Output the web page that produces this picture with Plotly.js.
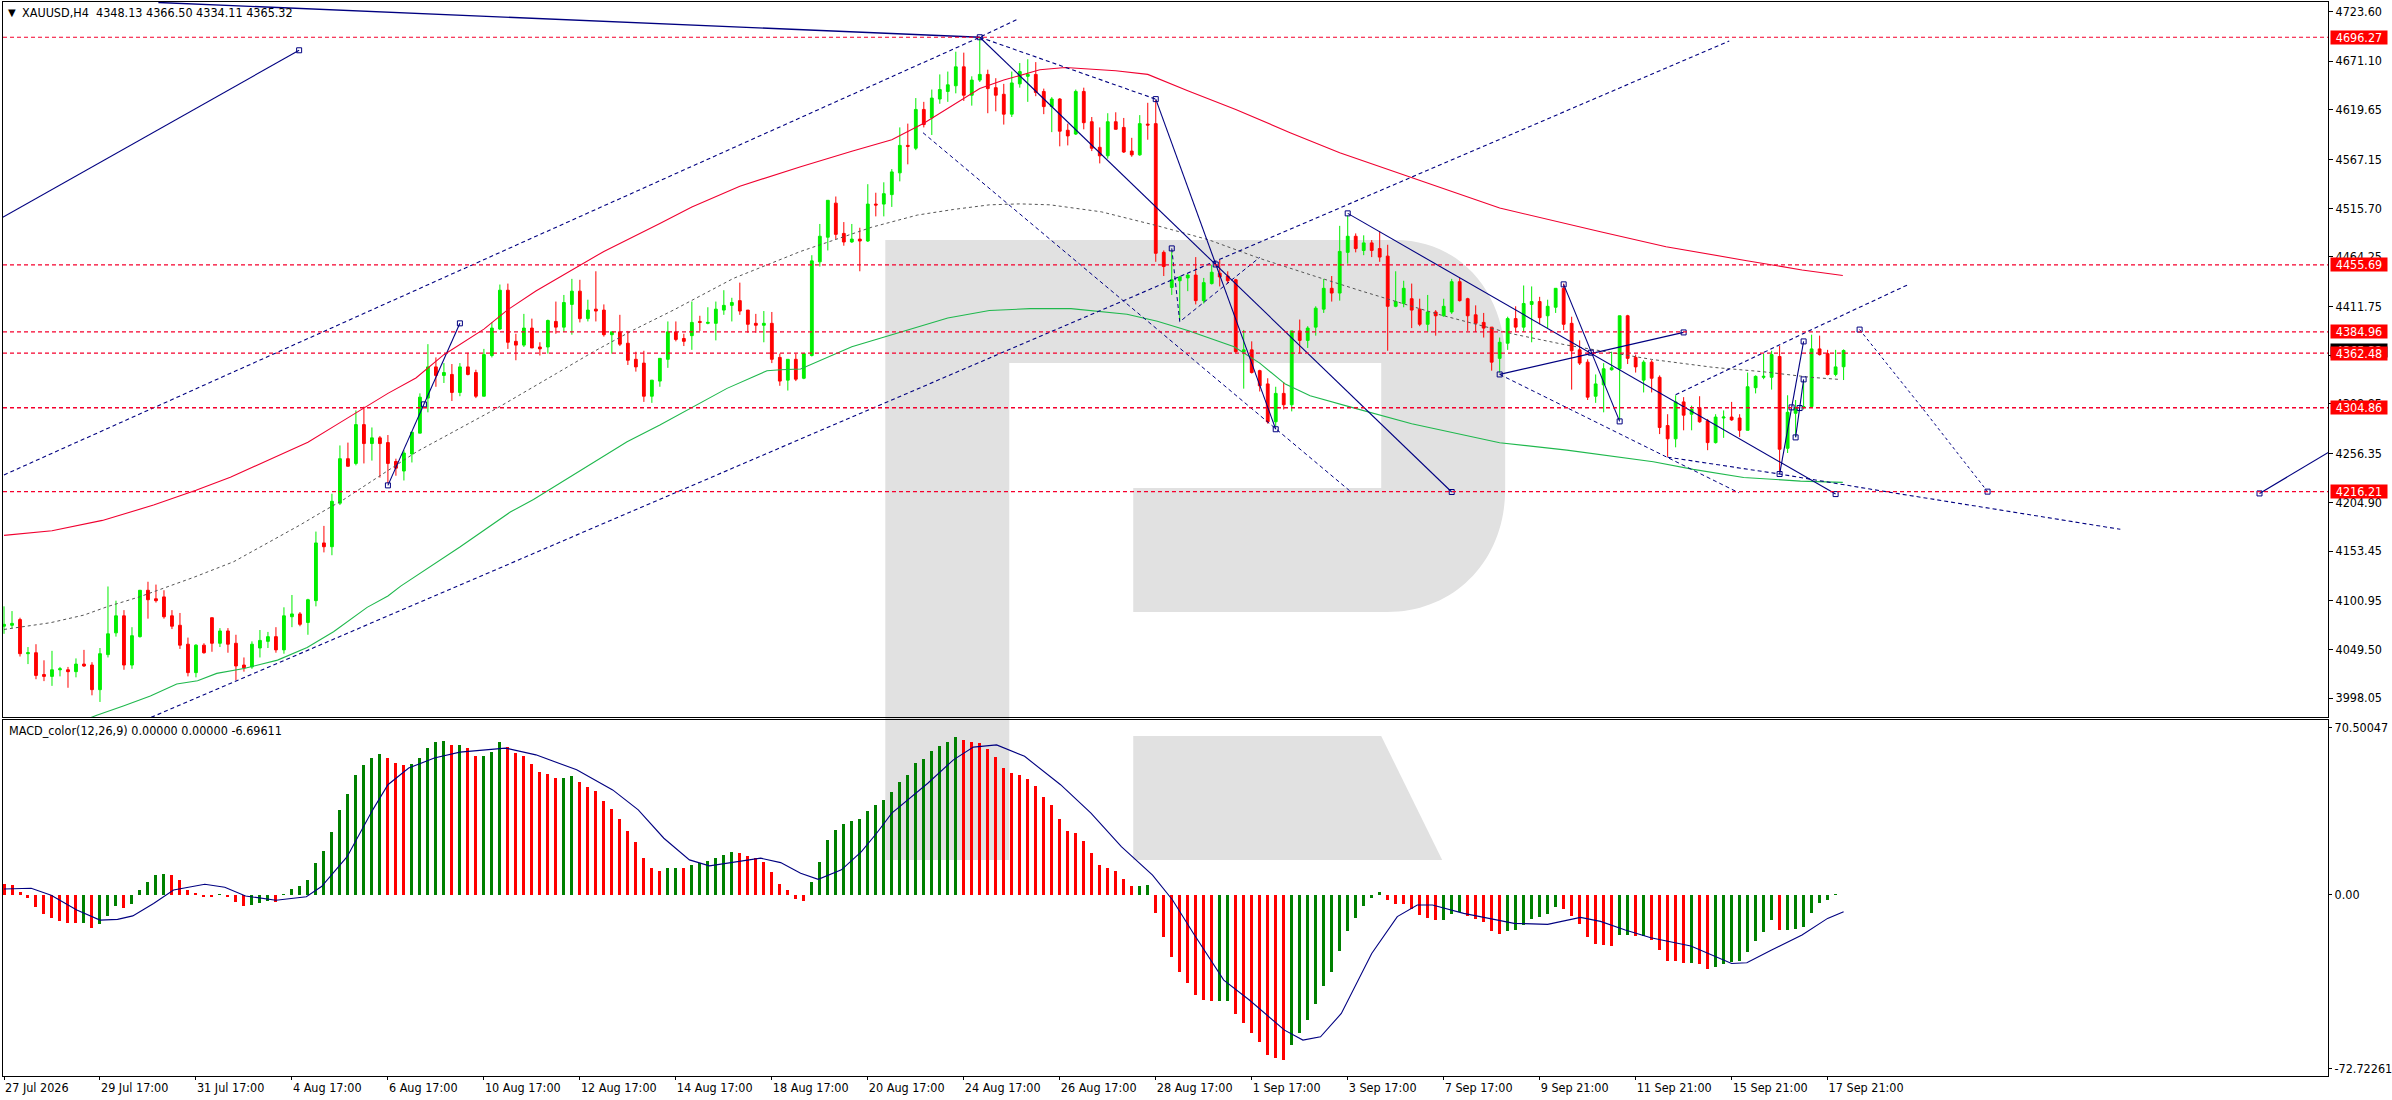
<!DOCTYPE html>
<html>
<head>
<meta charset="utf-8">
<title>XAUUSD,H4</title>
<script src="https://cdn.plot.ly/plotly-3.0.1.min.js"></script>
<style>
  html, body { margin: 0; padding: 0; background: #fff; }
</style>
</head>
<body>
<div id="chart"></div>
<script>
// H4 candles, one per bar index
const opens = [
  4074,4075,4081,4045,4046,4023,4021,4028,4028,4026,
  4034,4033,4007,4044,4067,4085,4033,4063,4112,4103,
  4105,4085,4075,4055,4025,4054,4083,4056,4069,4056,
  4033,4031,4051,4058,4063,4049,4084,4087,4078,4101,
  4162,4158,4204,4251,4246,4287,4267,4273,4268,4248,
  4238,4256,4278,4315,4348,4339,4340,4321,4348,4342,
  4317,4360,4388,4429,4375,4371,4389,4369,4369,4396,
  4390,4414,4428,4399,4409,4408,4382,4385,4373,4356,
  4352,4317,4333,4356,4385,4378,4381,4396,4394,4394,
  4408,4413,4418,4408,4394,4392,4394,4358,4334,4356,
  4336,4360,4459,4485,4521,4489,4480,4483,4481,4520,
  4520,4530,4553,4582,4579,4620,4611,4631,4639,4645,
  4665,4635,4651,4657,4643,4636,4615,4647,4655,4657,
  4639,4623,4631,4598,4594,4639,4607,4580,4571,4607,
  4601,4576,4572,4604.5,4605,4469,4432,4439,4442,4445,
  4418,4436,4447,4444,4440,4364,4366,4344,4330,4290,
  4320,4308,4386,4376,4390,4409,4431,4426,4469,4486,
  4471,4479,4473,4465,4412,4415,4420,4409,4393,4406,
  4402,4406,4438,4420,4403,4395,4390,4357,4373,4399,
  4390,4414,4417,4402,4411,4431,4394,4366,4353,4317,
  4329,4345,4346,4402,4358,4334,4353,4337,4286,4272,
  4311,4298,4305,4291,4268,4294,4295,4294,4281,4326,
  4337,4337,4359,4262,4299,4305,4306,4367,4362,4340,4348.13
];
const highs = [
  4095,4090,4083,4052,4055,4038,4048,4031,4031,4040,
  4049,4036,4051,4116,4101,4091,4073,4112,4121,4118,
  4112,4091,4088,4062,4055,4056,4083,4072,4072,4065,
  4041,4058,4070,4068,4073,4094,4107,4089,4103,4174,
  4180,4214,4265,4268,4302,4306,4284,4275,4276,4251,
  4260,4279,4320,4372,4358,4352,4351,4352,4363,4345,
  4367,4395,4435,4436,4383,4404,4399,4374,4398,4417,
  4424,4441,4440,4419,4449,4414,4385,4403,4386,4364,
  4365,4334,4357,4396,4396,4383,4417,4402,4411,4417,
  4429,4421,4437,4408,4404,4407,4406,4362,4356,4362,
  4362,4466,4499,4524,4528,4501,4499,4495,4541,4532,
  4543,4557,4601,4605,4632,4628,4641,4657,4660,4681,
  4680,4655,4696,4662,4653,4647,4660,4669,4673,4670,
  4642,4633,4632,4605,4641,4643,4612,4601,4616,4617,
  4611,4590,4614,4627,4630,4471,4470,4444,4446,4464,
  4442,4456,4461,4449,4441,4387,4375,4345,4336,4327,
  4332,4386,4398,4391,4412,4441,4444,4497,4508,4489,
  4487,4482,4491,4477,4449,4439,4436,4420,4424,4408,
  4420,4441,4442,4421,4413,4405,4390,4379,4401,4412,
  4434,4433,4422,4419,4431,4436,4401,4376,4356,4340,
  4352,4364,4402,4403,4361,4355,4355,4339,4298,4318,
  4316,4307,4317,4293,4298,4302,4311,4298,4342,4339,
  4362,4365,4370,4318,4313,4334,4382,4381,4366,4366,4366.5
];
const lows = [
  4066,4072,4042,4034,4018,4016,4011,4021,4009,4020,
  4031,4001,3994,4041,4063,4028,4029,4062,4082,4099,
  4082,4071,4050,4021,4020,4045,4047,4052,4046,4017,
  4026,4029,4041,4051,4046,4045,4073,4074,4065,4095,
  4152,4149,4202,4243,4244,4246,4249,4231,4225,4233,
  4228,4247,4278,4300,4327,4331,4312,4317,4339,4315,
  4317,4358,4387,4367,4355,4369,4368,4360,4362,4383,
  4385,4382,4395,4396,4396,4380,4362,4370,4350,4343,
  4311,4310,4327,4347,4375,4370,4366,4386,4393,4376,
  4403,4396,4403,4384,4384,4374,4352,4328,4323,4333,
  4335,4359,4454,4471,4483,4476,4479,4449,4480,4507,
  4507,4517,4544,4562,4577,4601,4593,4626,4628,4637,
  4629,4624,4649,4616,4618,4604,4612,4643,4628,4634,
  4615,4596,4581,4582,4593,4599,4576,4563,4568,4599,
  4574,4570,4571,4588,4459,4444,4424,4397,4428,4414,
  4415,4435,4433,4436,4363,4325,4341,4322,4288,4285,
  4303,4301,4362,4368,4381,4405,4417,4418,4457,4469,
  4466,4464,4459,4365,4411,4411,4389,4391,4385,4381,
  4401,4404,4417,4386,4385,4379,4344,4342,4366,4385,
  4385,4374,4393,4389,4405,4387,4324,4350,4313,4310,
  4300,4344,4292,4351,4342,4321,4321,4277,4253,4263,
  4281,4281,4289,4260,4267,4273,4291,4274,4281,4320,
  4335,4324,4237,4257,4274,4303,4305,4360,4339,4338,4334.11
];
const closes = [
  4076,4077,4045,4046,4022,4021,4028,4029,4026,4034,
  4032,4007,4045,4066,4085,4033,4064,4112,4102,4101,
  4084,4074,4054,4025,4054,4046,4056,4069,4055,4032,
  4030,4055,4059,4063,4049,4085,4087,4076,4102,4162,
  4158,4206,4251,4243,4287,4267,4273,4267,4246,4241,
  4257,4279,4316,4348,4339,4342,4321,4348,4340,4317,
  4361,4389,4429,4374,4371,4389,4368,4367,4397,4390,
  4416,4428,4399,4408,4407,4382,4385,4372,4355,4348,
  4317,4334,4357,4385,4377,4375,4395,4395,4395,4409,
  4413,4416,4407,4393,4392,4394,4356,4333,4356,4335,
  4362,4460,4486,4524,4488,4480,4483,4481,4520,4519,
  4531,4554,4582,4581,4620,4604,4632,4641,4646,4665,
  4635,4651,4657,4642,4635,4615,4648,4660,4657,4638,
  4623,4631,4597,4592,4639,4606,4579,4571,4607,4599,
  4575,4572,4605,4603.5,4468,4454,4440,4443,4445,4418,
  4437,4448,4443,4439,4364,4366,4342,4328,4290,4320,
  4308,4386,4376,4389,4410,4431,4426,4470,4486,4473,
  4479,4471,4464,4412,4417,4431,4408,4393,4406,4402,
  4412,4438,4418,4402,4394,4389,4353,4374,4399,4390,
  4415,4417,4400,4412,4431,4393,4365,4352,4316,4330,
  4346,4347,4402,4357,4348,4353,4336,4284,4272,4311,
  4297,4303,4290,4268,4295,4295,4292,4281,4327,4338,
  4338,4361,4261,4300,4305,4306,4367,4361,4340,4348,4365.32
];

// MACD_color histogram
const macdValues = [
  4.4,4.0,1.3,-1.1,-4.7,-7.6,-9.1,-10.3,-11.1,-11.1,
  -11.1,-13.3,-11.7,-8.3,-4.4,-5.2,-3.6,2.0,5.2,8.0,
  8.6,8.0,6.0,2.0,0.8,-0.8,-0.8,0.3,-0.8,-2.8,
  -4.3,-4.0,-3.2,-2.4,-2.8,0.4,2.4,3.6,6.0,12.9,
  17.7,25.3,34.2,40.6,48.3,52.3,55.1,56.7,55.1,53.1,
  52.3,52.7,55.1,59.1,61.3,62.0,60.3,60.3,59.1,55.9,
  55.9,57.5,61.6,59.4,57.1,55.9,52.7,49.5,48.7,47.1,
  47.1,47.9,45.5,43.4,41.8,37.8,34.6,30.6,25.7,21.3,
  14.9,10.9,9.7,10.9,10.9,10.9,12.1,12.7,13.7,14.9,
  16.1,17.3,16.9,15.7,14.8,13.3,9.3,4.4,2.0,-1.6,
  -2.4,5.2,13.3,22.1,26.1,28.6,29.8,30.6,33.8,36.2,
  38.2,41.4,45.5,48.3,53.1,54.7,57.9,59.9,61.6,63.6,
  62.4,61.6,61.1,58.7,55.5,51.1,49.1,48.3,46.7,43.9,
  39.4,36.2,30.6,25.7,24.9,21.7,16.9,12.1,10.9,9.7,
  6.4,3.6,3.6,4.0,-7.2,-16.9,-24.9,-31.0,-35.4,-40.2,
  -42.2,-42.6,-42.6,-42.6,-47.9,-51.5,-55.5,-59.1,-64.4,-65.6,
  -66.4,-60.3,-55.5,-50.3,-43.9,-36.6,-31.0,-22.5,-14.5,-9.3,
  -4.4,-1.2,1.2,-2.0,-3.6,-3.6,-5.6,-8.0,-9.3,-10.1,
  -10.1,-7.6,-6.8,-8.4,-9.7,-10.9,-14.5,-15.7,-14.5,-14.1,
  -12.1,-9.7,-8.9,-7.6,-4.8,-5.6,-8.4,-11.7,-16.9,-19.7,
  -20.1,-20.5,-16.1,-16.1,-16.5,-16.5,-18.1,-22.1,-26.6,-26.6,
  -27.4,-27.4,-27.8,-29.8,-29.0,-27.8,-27.0,-26.6,-22.9,-18.5,
  -14.9,-10.1,-14.1,-14.1,-13.7,-12.9,-7.2,-3.2,-2.0,0.4,0
];
// runs of bars of one colour, alternating, first run is red
const macdRuns = [10,1,1,3,1,5,6,1,3,3,1,13,3,5,1,1,2,3,7,2,11,2,1,6,9,19,22,2,8,2,7,12,7,3,5,7,7,2,1,1,5,1,2,8,1,8];
const signalX = [0,3.4,5.9,9.1,12,14.2,16.1,18.7,21.2,25.1,27.6,30.2,34,37.8,39.7,42.9,46.1,48,50.6,53.8,57,62.7,66.5,71.6,76.1,79.3,82.5,85.7,88.2,91.4,94.6,97.1,99.6,101.8,104.7,107.2,109.1,111,115.5,118.7,121.2,124.1,127.6,132.1,135.9,139.7,143.6,146.1,148.7,152.5,155.7,160.1,162.4,164.6,167.2,171,174.2,176.7,178.6,182.5,188.8,193,197.1,199.6,202.7,205.9,210.9,216,217.9,221,224.8,228,230];
const signalY = [2.4,2.7,-0.1,-6.0,-10.1,-9.8,-8.4,-3.4,2.0,4.3,3.1,-0.4,-2.1,-0.7,3.4,15.4,34.2,44.3,51.0,55.0,57.4,59.0,56.3,50.3,42.2,34.2,22.8,14.1,11.7,13.4,14.8,13.0,8.7,6.3,10.1,17.4,24.8,32.9,44.9,54.3,59.4,60.3,55.7,44.3,32.9,19.4,8.0,-2.0,-15.4,-34.2,-42.2,-54.3,-58.3,-57,-47.6,-23.5,-8.7,-4.0,-4.0,-7.4,-11.4,-11.8,-9.0,-10.6,-14.1,-17.2,-20.5,-27.5,-27.2,-22.1,-16.1,-9.4,-6.7];

// moving averages, read at turning points
const redMaX = [0,6,12.3,18.7,24,28.3,33.5,38,41.6,45,48,51.5,55,60,63,66.5,72,75,82,86,92,99.6,106,111,115,118.7,122,125,129.5,132.7,139,143,148,154,160.8,167,176,187,199.6,207.8,217.9,224.8,229.9];
const redMaY = [4170,4174.9,4185.8,4202,4217.7,4231.5,4251.2,4268.4,4287,4304.8,4320,4336.3,4360.9,4387.9,4408.5,4428.2,4455.3,4470,4499.5,4516.8,4538.9,4559.5,4575.8,4588,4605.3,4625,4642.2,4651,4661.9,4664.3,4660.9,4657,4639.7,4620,4595.4,4574.3,4547.7,4515.8,4490.7,4475,4460.2,4450.4,4444.5];
const grayMaX = [0,5.8,10,13,17,20,23.7,28.7,34,37,39.6,41.2,42.5,51.6,61.6,69.1,73.7,78.7,83.7,91.2,97,99.6,108.5,114.2,118.7,123.2,127,130.8,137.2,144.2,150.6,157,163.3,169.7,179.3,188.7,195.4,201,206,213.7,219.9,226,229.4];
const grayMaY = [4070.6,4077.7,4085.8,4094.9,4105.2,4114,4125.6,4142.1,4166.8,4180.9,4193.9,4202,4208,4258.4,4304.2,4341.2,4364,4387,4408,4441.5,4460.9,4470,4495.6,4508.4,4514.3,4519.2,4520.2,4519.2,4511.8,4497.1,4482.3,4462.6,4445.4,4428.2,4403.6,4382.7,4371,4363,4355.9,4347.5,4342.9,4336.9,4334.8];
const greenMaX = [8,11.6,15,18.3,21.6,24.2,26.6,30,34.2,37.9,41.2,45.4,48,49.6,57,63.3,66.2,72.9,77.9,82,85.8,90.4,93.7,95.4,97.1,99.6,106,113.6,118,123.2,128.3,133.4,140.4,144.2,148,153.8,157,160.2,163.3,168.5,176,187,195.4,206.2,211.2,217.5,224.6,229.9];
const greenMaY = [3968,3980,3990,4000.2,4012.9,4016.4,4024.2,4029.4,4038.2,4051.6,4068.2,4093.9,4106,4116.4,4157.7,4194.6,4208,4242.5,4268.9,4286.6,4304.2,4325.3,4337.6,4344,4345,4345.7,4369.2,4388.9,4399.7,4407.6,4409.5,4409.5,4403.6,4396.2,4386.4,4369.2,4352,4329.8,4317.5,4305.2,4288,4267.9,4260.1,4247.8,4239.7,4231.2,4227.3,4226];

// solid trend lines
const solidAX = [19.3,122], solidAY = [4733,4696.27];
const solidBX = [-0.2,36.9], solidBY = [4505.9,4682.5];
const solidCX = [144,159], solidCY = [4630.9,4282.1];
const solidDX = [122,181], solidDY = [4696.27,4215.8];
const solidEX = [168,229], solidEY = [4510.2,4213.6];
const solidFX = [195,202], solidFY = [4435.2,4290.4];
const solidGX = [187,210], solidGY = [4340,4384.4];
const solidHX = [222,225], solidHY = [4234.8,4374.9];
const solidIX = [224,225], solidIY = [4273.5,4334.8];
const solidJX = [282,290.6], solidJY = [4214.3,4257.5];
const solidKX = [48,57], solidKY = [4222.8,4394];

// dashed channel lines
const dashAX = [0,122,126.9], dashAY = [4233.9,4696.27,4716];
const dashBX = [18.4,215.7], dashBY = [3977.7,4692.3];
const dashCX = [122,144], dashCY = [4696.27,4630.9];
const dashDX = [114.9,168.4], dashDY = [4595.4,4216];
const dashEX = [146,147,157], dashEY = [4473.2,4395.7,4463.7];
const dashFX = [187,207.9,216.9], dashFY = [4340,4253,4215];
const dashGX = [208,222,233.3,264.6], dashGY = [4252.6,4234.8,4218.9,4176.4];
const dashHX = [209,225,238], dashHY = [4318.6,4383.4,4434.6];
const dashIX = [232,240,248], dashIY = [4387.4,4302.8,4216.2];

// square anchors of the drawn objects
const anchorX = [36.9,122,144,159,181,151.5,168,229,198.4,195,202,187,210,222,225,223.5,224,224.5,225,282,48,52.5,57,146,232,248];
const anchorY = [4682.5,4696.27,4630.9,4282.1,4215.8,4456.2,4510.2,4213.6,4363,4435.2,4290.4,4340,4384.4,4234.8,4374.9,4305.2,4273.5,4304.5,4334.8,4214.3,4222.8,4308.4,4394,4473.2,4387.4,4216.2];

// horizontal levels and last price
const levels = [4696.27,4455.69,4384.96,4362.48,4304.86,4216.21];
const lastPrice = 4365.32;

// axis labels
const priceTicks = [4723.60,4671.10,4619.65,4567.15,4515.70,4464.25,4411.75,4360.30,4308.85,4256.35,4204.90,4153.45,4100.95,4049.50,3998.05];
const macdTickVals = [67.1,0,-69.9];
const macdTickText = ["70.50047","0.00","-72.72261"];
const timeLabels = ["27 Jul 2026","29 Jul 17:00","31 Jul 17:00","4 Aug 17:00","6 Aug 17:00","10 Aug 17:00","12 Aug 17:00","14 Aug 17:00","18 Aug 17:00","20 Aug 17:00","24 Aug 17:00","26 Aug 17:00","28 Aug 17:00","1 Sep 17:00","3 Sep 17:00","7 Sep 17:00","9 Sep 21:00","11 Sep 21:00","15 Sep 21:00","17 Sep 21:00"];

const W = 2392, H = 1100;
const L = 2.5, R = 2328, T = 2, B = 1076, mainBottom = 717, macdTop = 719.5;
const fontFamily = '"DejaVu Sans Condensed", "Liberation Sans", Arial, sans-serif';
const fontSize = 12.5;
const navy = "#000080";
const barIdx = opens.map((_, i) => i);
const timeTicks = timeLabels.map((_, i) => i * 12);

const macdColors = [];
macdRuns.forEach((n, r) => {
  for (let k = 0; k < n; k++) macdColors.push(r % 2 ? "#008000" : "#ff0000");
});

const line = (x, y, color, width, dash) => ({
  type: "scatter",
  mode: "lines",
  x: x,
  y: y,
  xaxis: "x2",
  yaxis: "y",
  line: { color: color, width: width, dash: dash || "solid" },
  hoverinfo: "skip",
});

const traces = [
  {
    type: "candlestick",
    x: barIdx,
    open: opens,
    high: highs,
    low: lows,
    close: closes,
    xaxis: "x2",
    yaxis: "y",
    whiskerwidth: 0,
    increasing: { line: { color: "#00ee00", width: 1 }, fillcolor: "#00ee00" },
    decreasing: { line: { color: "#ff0000", width: 1 }, fillcolor: "#ff0000" },
    hoverinfo: "skip",
  },
  line(redMaX, redMaY, "#f00030", 1.1),
  line(greenMaX, greenMaY, "#1fb84d", 1.1),
  line(grayMaX, grayMaY, "#555555", 1, "3px,3px"),
  line(solidAX, solidAY, navy, 1.4),
  line(solidBX, solidBY, navy, 1.1),
  line(solidCX, solidCY, navy, 1.1),
  line(solidDX, solidDY, navy, 1.1),
  line(solidEX, solidEY, navy, 1.1),
  line(solidFX, solidFY, navy, 1.1),
  line(solidGX, solidGY, navy, 1.3),
  line(solidHX, solidHY, navy, 1.1),
  line(solidIX, solidIY, navy, 1.1),
  line(solidJX, solidJY, navy, 1.1),
  line(solidKX, solidKY, navy, 1.1),
  line(dashAX, dashAY, navy, 1.1, "4px,3px"),
  line(dashBX, dashBY, navy, 1.1, "4px,3px"),
  line(dashCX, dashCY, navy, 1.1, "4px,3px"),
  line(dashDX, dashDY, navy, 1, "4px,3px"),
  line(dashEX, dashEY, navy, 1, "4px,3px"),
  line(dashFX, dashFY, navy, 1, "4px,3px"),
  line(dashGX, dashGY, navy, 1.1, "4px,3px"),
  line(dashHX, dashHY, navy, 1.1, "4px,3px"),
  line(dashIX, dashIY, navy, 1, "3px,3px"),
  {
    type: "scatter",
    mode: "markers",
    x: anchorX,
    y: anchorY,
    xaxis: "x2",
    yaxis: "y",
    marker: { symbol: "square-open", size: 5, color: navy, line: { width: 1, color: navy } },
    hoverinfo: "skip",
  },
  {
    type: "bar",
    x: barIdx,
    y: macdValues,
    width: 0.375,
    xaxis: "x",
    yaxis: "y2",
    marker: { color: macdColors, line: { width: 0 } },
    hoverinfo: "skip",
  },
  {
    type: "scatter",
    mode: "lines",
    x: signalX,
    y: signalY,
    xaxis: "x",
    yaxis: "y2",
    line: { color: navy, width: 1.1 },
    hoverinfo: "skip",
  },
];

// pixel to paper helpers, for the page furniture only
const px = (x) => ((x - L) / (R - L)).toFixed(5);
const py = (y) => ((B - y) / (B - T)).toFixed(5);
const pathOf = (cmds) =>
  cmds
    .map((c) => {
      const pts = [];
      for (let i = 1; i < c.length; i += 2) pts.push(px(c[i]) + "," + py(c[i + 1]));
      return c[0] + pts.join(" ");
    })
    .join(" ");

const logoBody = pathOf([
  ["M", 885, 240],
  ["L", 1395, 240],
  ["C", 1462, 240, 1505, 295, 1505, 360],
  ["L", 1505, 489],
  ["C", 1505, 560, 1455, 612, 1387, 612],
  ["L", 1133, 612],
  ["L", 1133, 488],
  ["L", 1381, 488],
  ["L", 1381, 363],
  ["L", 1009, 363],
  ["L", 1009, 860],
  ["L", 885, 860],
  ["Z"],
]);
const logoLeg = pathOf([
  ["M", 1133, 736],
  ["L", 1381, 736],
  ["L", 1442, 860],
  ["L", 1133, 860],
  ["Z"],
]);

const shapes = [
  { type: "path", xref: "paper", yref: "paper", path: logoBody, fillcolor: "#e1e1e1", line: { width: 0 }, layer: "below" },
  { type: "path", xref: "paper", yref: "paper", path: logoLeg, fillcolor: "#e1e1e1", line: { width: 0 }, layer: "below" },
].concat(
  levels.map((v) => ({
    type: "line",
    xref: "x2",
    yref: "y",
    x0: -0.125,
    x1: 290.56,
    y0: v,
    y1: v,
    line: { color: "#f5002d", width: v === 4304.86 ? 1.6 : 1.2, dash: "4px,3px" },
    layer: "above",
  }))
);

const tag = (v, bg) => ({
  xref: "paper",
  yref: "y",
  x: 1,
  y: v,
  xshift: 2,
  xanchor: "left",
  yanchor: "middle",
  text: v.toFixed(2),
  showarrow: false,
  bgcolor: bg,
  width: 56,
  height: 13,
  borderpad: 0,
  align: "center",
  font: { family: fontFamily, size: fontSize, color: "#ffffff" },
});

const annotations = [
  tag(lastPrice, "#000000"),
  ...levels.map((v) => tag(v, "#ff0000")),
  {
    xref: "paper",
    yref: "paper",
    x: 0,
    y: py(12.5),
    xshift: 3,
    xanchor: "left",
    yanchor: "middle",
    showarrow: false,
    text: "▼",
    font: { family: "DejaVu Sans", size: 10, color: "#000000" },
  },
  {
    xref: "paper",
    yref: "paper",
    x: 0,
    y: py(12.5),
    xshift: 17,
    xanchor: "left",
    yanchor: "middle",
    showarrow: false,
    text: "XAUUSD,H4  4348.13 4366.50 4334.11 4365.32",
    font: { family: fontFamily, size: fontSize, color: "#000000" },
  },
  {
    xref: "paper",
    yref: "paper",
    x: 0,
    y: py(731),
    xshift: 4,
    xanchor: "left",
    yanchor: "middle",
    showarrow: false,
    text: "MACD_color(12,26,9) 0.00000 0.00000 -6.69611",
    font: { family: fontFamily, size: fontSize, color: "#000000" },
  },
];

const xRange = [(L - 3.5) / 8, (R - 3.5) / 8];
const axisFont = { family: fontFamily, size: fontSize, color: "#000000" };

const layout = {
  width: W,
  height: H,
  margin: { l: L, r: W - R, t: T, b: H - B, pad: 0 },
  paper_bgcolor: "#ffffff",
  plot_bgcolor: "rgba(0,0,0,0)",
  showlegend: false,
  boxgap: 0.5,
  bargap: 0,
  font: axisFont,
  xaxis: {
    domain: [0, 1],
    anchor: "y2",
    range: xRange,
    tickmode: "array",
    tickvals: timeTicks,
    ticktext: timeLabels,
    ticks: "outside",
    ticklen: 3,
    tickcolor: "#000000",
    tickangle: 0,
    ticklabelposition: "outside right",
    tickfont: axisFont,
    showgrid: false,
    zeroline: false,
    showline: true,
    linecolor: "#000000",
    linewidth: 1,
    mirror: true,
    rangeslider: { visible: false },
  },
  xaxis2: {
    domain: [0, 1],
    anchor: "y",
    range: xRange,
    showticklabels: false,
    ticks: "",
    showgrid: false,
    zeroline: false,
    showline: true,
    linecolor: "#000000",
    linewidth: 1,
    mirror: true,
    rangeslider: { visible: false },
  },
  yaxis: {
    domain: [(B - mainBottom) / (B - T), 1],
    anchor: "x2",
    side: "right",
    range: [3978.1, 4733.5],
    tickmode: "array",
    tickvals: priceTicks,
    ticktext: priceTicks.map((v) => v.toFixed(2)),
    ticks: "outside",
    ticklen: 4,
    tickcolor: "#000000",
    tickfont: axisFont,
    showgrid: false,
    zeroline: false,
    showline: true,
    linecolor: "#000000",
    linewidth: 1,
    mirror: true,
  },
  yaxis2: {
    domain: [0, (B - macdTop) / (B - T)],
    anchor: "x",
    side: "right",
    range: [-72.72261, 70.50047],
    tickmode: "array",
    tickvals: macdTickVals,
    ticktext: macdTickText,
    ticks: "outside",
    ticklen: 3,
    tickcolor: "#000000",
    tickfont: axisFont,
    showgrid: false,
    zeroline: false,
    showline: true,
    linecolor: "#000000",
    linewidth: 1,
    mirror: true,
  },
  shapes: shapes,
  annotations: annotations,
};

Plotly.newPlot("chart", traces, layout, { displayModeBar: false, staticPlot: true });
</script>
</body>
</html>
